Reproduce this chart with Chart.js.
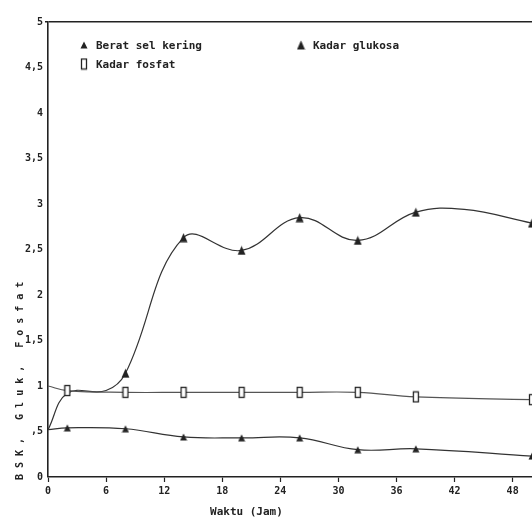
<!DOCTYPE html>
<html>
<head>
<meta charset="utf-8">
<script src="https://cdn.jsdelivr.net/npm/chart.js@4"></script>
<style>
  html, body { margin: 0; padding: 0; background: #fff; overflow: hidden; }
  #wrap { width: 532px; height: 519px; position: relative; }
</style>
</head>
<body>
<div id="wrap"><canvas id="c" width="532" height="519"></canvas></div>
<script>
// ---- data ----
const seriesNames = ["Berat sel kering", "Kadar fosfat", "Kadar glukosa"];

const beratSelX = [0, 2, 8, 14, 20, 26, 32, 38, 50];
const beratSelY = [0.52, 0.54, 0.53, 0.44, 0.43, 0.43, 0.30, 0.31, 0.23];
const beratSelMarked = [0, 1, 1, 1, 1, 1, 1, 1, 1];

const fosfatX = [0, 2, 8, 14, 20, 26, 32, 38, 50];
const fosfatY = [1.00, 0.95, 0.93, 0.93, 0.93, 0.93, 0.93, 0.88, 0.85];
const fosfatMarked = [0, 1, 1, 1, 1, 1, 1, 1, 1];

const glukosaX = [0, 2, 6, 8, 14, 20, 26, 32, 38, 43, 50];
const glukosaY = [0.52, 0.92, 0.95, 1.14, 2.63, 2.49, 2.85, 2.60, 2.91, 2.94, 2.79];
const glukosaMarked = [0, 0, 0, 1, 1, 1, 1, 1, 1, 0, 1];

const xTickValues = [0, 6, 12, 18, 24, 30, 36, 42, 48];
const xTickLabels = ["0", "6", "12", "18", "24", "30", "36", "42", "48"];
const yTickValues = [0, 0.5, 1, 1.5, 2, 2.5, 3, 3.5, 4, 4.5, 5];
const yTickLabels = ["0", ",5", "1", "1,5", "2", "2,5", "3", "3,5", "4", "4,5", "5"];

const xTitle = "Waktu (Jam)";
const yTitle = "BSK, Gluk, Fosfat";

// ---- marker images ----
const INK = "#222";
function makeMarker(kind) {
  const c = document.createElement("canvas");
  let w, h;
  if (kind === "tri") { w = 8; h = 8; }
  else if (kind === "triBig") { w = 9; h = 10; }
  else { w = 8; h = 13; }
  c.width = w; c.height = h;
  const g = c.getContext("2d");
  if (kind === "tri" || kind === "triBig") {
    g.fillStyle = INK;
    g.beginPath();
    g.moveTo(w / 2, 0.5);
    g.lineTo(w - 0.5, h - 0.5);
    g.lineTo(0.5, h - 0.5);
    g.closePath();
    g.fill();
  } else {
    g.fillStyle = "#fff";
    g.fillRect(1, 1, w - 2, h - 2);
    g.strokeStyle = INK;
    g.lineWidth = 1.3;
    g.strokeRect(1.5, 1.5, w - 3, h - 3);
  }
  return c;
}
const mTri = makeMarker("tri");
const mTriBig = makeMarker("triBig");
const mRect = makeMarker("rect");

function toXY(xs, ys) { return xs.map((x, i) => ({ x: x, y: ys[i] })); }
function radii(m) { return m.map(v => v ? 4 : 0); }

const FONT_FAMILY = "'DejaVu Sans Mono', 'Liberation Mono', monospace";

// ---- plugin: legend inside plot, axis titles ----
const annot = {
  id: "annot",
  afterDraw(chart) {
    const ctx = chart.ctx;
    const xs = chart.scales.x, ys = chart.scales.y;
    ctx.save();
    ctx.fillStyle = INK;
    // legend
    ctx.font = "bold 11px " + FONT_FAMILY;
    ctx.textBaseline = "middle";
    ctx.textAlign = "left";
    const items = [
      { ds: 0, mx: 84, my: 45 },
      { ds: 1, mx: 84, my: 64 },
      { ds: 2, mx: 301, my: 45 }
    ];
    items.forEach(it => {
      const d = chart.data.datasets[it.ds];
      const img = d.pointStyle;
      ctx.drawImage(img, it.mx - img.width / 2, it.my - img.height / 2);
      ctx.fillText(d.label, it.mx + 12, it.my + 1);
    });
    // x title
    ctx.font = "bold 11px " + FONT_FAMILY;
    ctx.textAlign = "center";
    ctx.fillText(xTitle, xs.getPixelForValue(20.5), 512);
    // y title (rotated, letter-spaced)
    ctx.font = "bold 10px " + FONT_FAMILY;
    try { ctx.letterSpacing = "6px"; } catch (e) {}
    ctx.translate(20, ys.getPixelForValue(0) + 3);
    ctx.rotate(-Math.PI / 2);
    ctx.textAlign = "left";
    ctx.fillText(yTitle, 0, 0);
    ctx.restore();
  }
};

new Chart(document.getElementById("c"), {
  type: "line",
  data: {
    datasets: [
      {
        label: seriesNames[0],
        data: toXY(beratSelX, beratSelY),
        borderColor: "#333", borderWidth: 1.2,
        pointStyle: mTri, pointRadius: radii(beratSelMarked),
        tension: 0.4, fill: false
      },
      {
        label: seriesNames[1],
        data: toXY(fosfatX, fosfatY),
        borderColor: "#555", borderWidth: 1.2,
        pointStyle: mRect, pointRadius: radii(fosfatMarked),
        tension: 0.4, fill: false
      },
      {
        label: seriesNames[2],
        data: toXY(glukosaX, glukosaY),
        borderColor: "#333", borderWidth: 1.2,
        pointStyle: mTriBig, pointRadius: radii(glukosaMarked),
        tension: 0.4, fill: false
      }
    ]
  },
  options: {
    responsive: false,
    animation: false,
    devicePixelRatio: 1,
    layout: { autoPadding: false, padding: { top: 22, right: 0, left: 0, bottom: 0 } },
    plugins: { legend: { display: false }, tooltip: { enabled: false } },
    scales: {
      x: {
        type: "linear", min: 0, max: 50,
        afterBuildTicks: s => { s.ticks = xTickValues.map(v => ({ value: v })); },
        afterFit: s => { s.height = 42; s.paddingRight = 0; s.paddingLeft = 0; },
        grid: { drawOnChartArea: false, drawTicks: true, tickLength: 5, tickColor: INK, tickWidth: 1.2 },
        border: { display: true, color: INK, width: 1.6 },
        ticks: {
          autoSkip: false, maxRotation: 0, padding: 3,
          color: INK, font: { family: FONT_FAMILY, size: 10, weight: "bold" },
          callback: v => { const i = xTickValues.indexOf(v); return i >= 0 ? xTickLabels[i] : ""; }
        }
      },
      y: {
        type: "linear", min: 0, max: 5,
        afterBuildTicks: s => { s.ticks = yTickValues.map(v => ({ value: v })); },
        afterFit: s => { s.width = 48; },
        grid: {
          drawOnChartArea: true, drawTicks: true, tickLength: 3,
          tickColor: INK,
          color: c => (c.tick && c.tick.value === 5) ? INK : "rgba(0,0,0,0)",
          lineWidth: c => (c.tick && c.tick.value === 5) ? 1.6 : 0
        },
        border: { display: true, color: INK, width: 1.6 },
        ticks: {
          autoSkip: false, padding: 2,
          color: INK, font: { family: FONT_FAMILY, size: 10, weight: "bold" },
          callback: v => { const i = yTickValues.indexOf(v); return i >= 0 ? yTickLabels[i] : ""; }
        }
      }
    }
  },
  plugins: [annot]
});
</script>
</body>
</html>
